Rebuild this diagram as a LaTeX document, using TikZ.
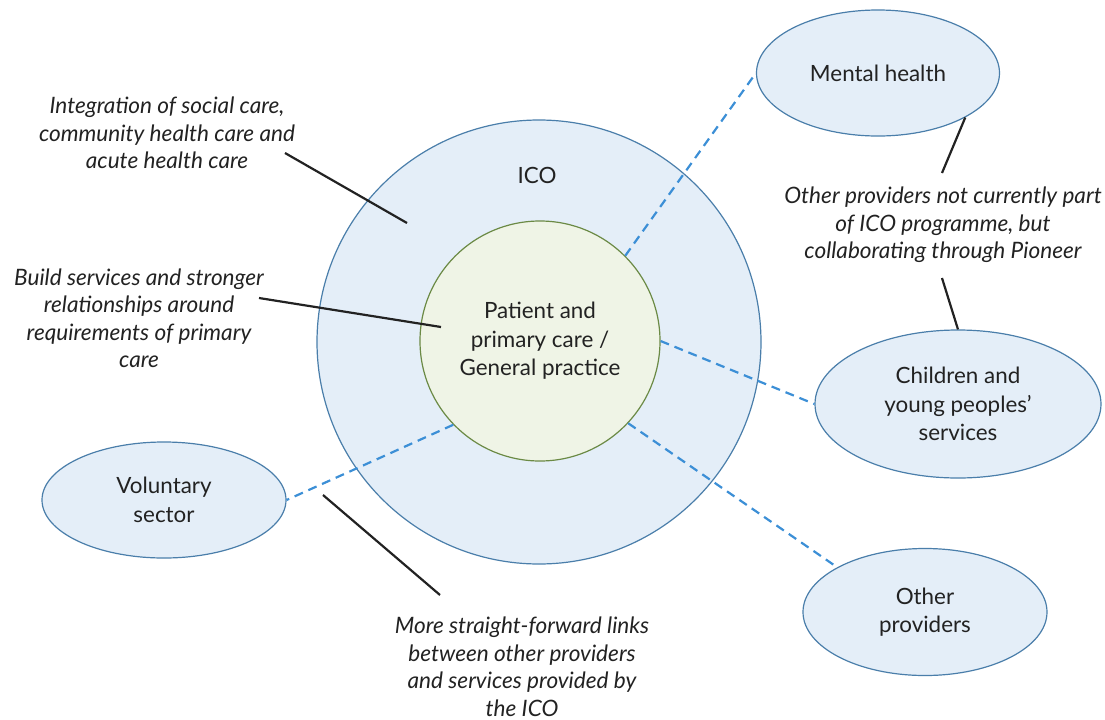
\documentclass[tikz,border=0pt]{standalone}
\usepackage{fontspec}
\setmainfont{Lato}
\usetikzlibrary{shapes.geometric}
\definecolor{icoFill}{HTML}{E4EEF8}
\definecolor{icoLine}{HTML}{4A7EAA}
\definecolor{coreFill}{HTML}{EFF4E6}
\definecolor{coreLine}{HTML}{6B8A45}
\definecolor{linkBlue}{HTML}{3C8FD6}
\definecolor{inkGrey}{HTML}{222222}
\begin{document}
\begin{tikzpicture}[x=0.5pt,y=-0.5pt,
  txt/.style={text=inkGrey, align=center, inner sep=0pt, font=\fontsize{11.2}{14.25}\selectfont},
  bubble/.style={txt, ellipse, draw=icoLine, fill=icoFill, line width=0.6pt},
  note/.style={txt, font=\fontsize{11.3}{13.75}\selectfont\itshape},
  link/.style={draw=linkBlue, line width=1.1pt, dash pattern=on 4.5pt off 3pt},
  pointer/.style={draw=inkGrey, line width=1.1pt}]
  \useasboundingbox (0,0) rectangle (1105,719);
  % rings
  \node[circle, draw=icoLine, fill=icoFill, line width=0.6pt, minimum size=222pt, inner sep=0pt] (ico) at (539,342) {};
  \node[txt] (iconame) at (537,175) {ICO};
  \node[txt, circle, draw=coreLine, fill=coreFill, line width=0.6pt, minimum size=120pt] (core) at (540,341) {Patient and\\primary care /\\General practice};
  % other providers
  \node[bubble, minimum width=121.5pt, minimum height=63pt] (mental) at (878,73) {Mental health};
  \node[bubble, minimum width=143pt, minimum height=74pt] (children) at (958,404) {Children and\\young peoples'\\services};
  \node[bubble, minimum width=122pt, minimum height=63.5pt] (others) at (925,612) {Other\\providers};
  \node[bubble, minimum width=122pt, minimum height=58pt] (voluntary) at (164,500) {Voluntary\\sector};
  % notes
  \node[note] (integration) at (167,133) {Integration of social care,\\community health care and\\acute health care};
  \node[note] (build) at (139,318) {Build services and stronger\\relationships around\\requirements of primary\\care};
  \node[note] (pioneer) at (943,225) {Other providers not currently part\\of ICO programme, but\\collaborating through Pioneer};
  \node[note] (links) at (522,667) {More straight-forward links\\between other providers\\and services provided by\\the ICO};
  % pointer ends
  \coordinate (integrationEnd) at (285,153);
  \coordinate (integrationTip) at (407,223);
  \coordinate (buildEnd) at (259,298);
  \coordinate (buildTip) at (441,327);
  \coordinate (pioneerTop) at (942,173);
  \coordinate (pioneerBot) at (942,278);
  \coordinate (linksTop) at (440,595);
  \coordinate (linksTip) at (323,495);
  % dashed links
  \draw[link] (core.45) -- (mental.west);
  \draw[link] (core.east) -- (children.west);
  \draw[link] (core.-43) -- (others.153);
  \draw[link] (core.224) -- (voluntary.east);
  % pointers
  \draw[pointer] (integrationEnd) -- (integrationTip);
  \draw[pointer] (buildEnd) -- (buildTip);
  \draw[pointer] (mental.-27) -- (pioneerTop);
  \draw[pointer] (pioneerBot) -- (children.north);
  \draw[pointer] (linksTop) -- (linksTip);
\end{tikzpicture}
\end{document}
